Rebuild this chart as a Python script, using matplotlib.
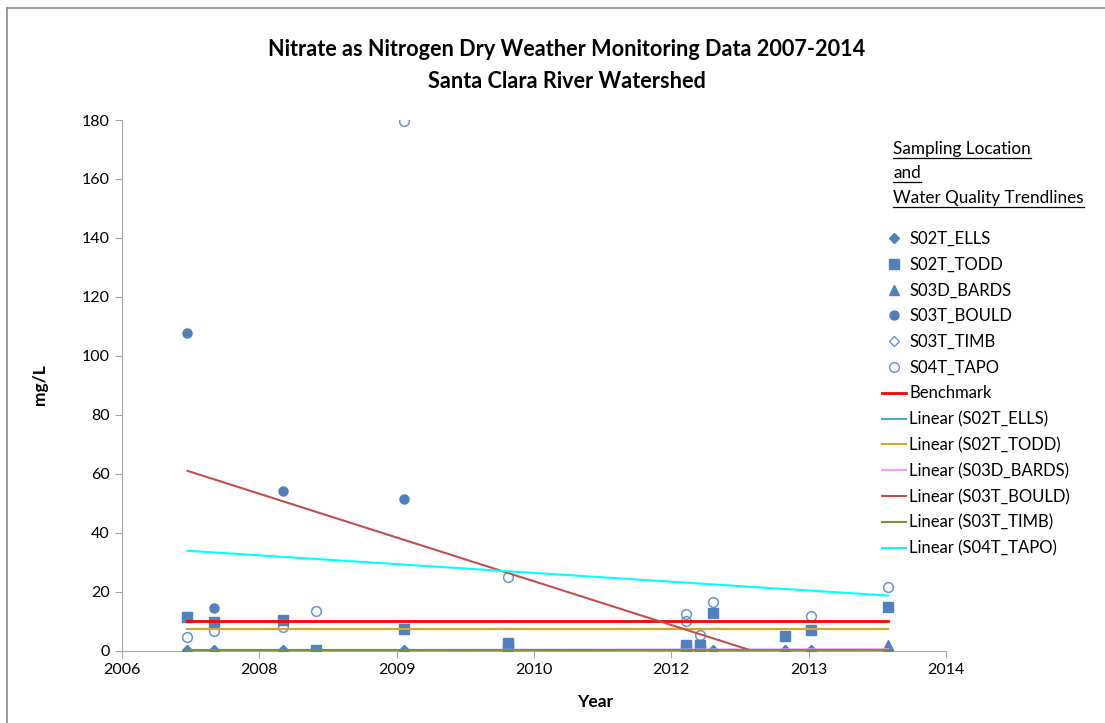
# Nitrate as Nitrogen - dry weather monitoring, Santa Clara River watershed
import matplotlib.pyplot as plt
from matplotlib.lines import Line2D

plt.rcParams['font.family'] = ['Lato', 'DejaVu Sans']

# sample dates (decimal years)
dates = [2007.52, 2007.77, 2008.42, 2008.74, 2009.57, 2010.55,
         2012.24, 2012.37, 2012.49, 2013.18, 2013.42, 2014.15]

ells_y = [0.1, 0.1, 0.1, 0.1, 0.1, 0.1, 0.1, 0.1, 0.1, 0.1, 0.1, 0.1]

todd_x = [2007.52, 2007.77, 2008.42, 2008.74, 2009.57, 2010.55, 2010.55,
          2012.24, 2012.24, 2012.37, 2012.37, 2012.49, 2013.18, 2013.42, 2014.15]
todd_y = [11.3, 9.7, 10.3, 0.3, 7.5, 2.5, 0.5, 2.0, 0.3, 2.0, 0.3, 12.9, 4.9, 7.0, 14.8]

bards_y = [0.1, 0.1, 0.1, 0.1, 0.1, 0.1, 0.1, 0.1, 0.1, 0.1, 0.1, 1.9]

bould_x = [2007.52, 2007.77, 2008.42, 2009.57]
bould_y = [107.6, 14.4, 54.3, 51.6]

timb_y = [0.0, 0.0, 0.0, 0.0, 0.0, 0.0, 0.0, 0.0, 0.0, 0.0, 0.0, 0.0]

tapo_x = [2007.52, 2007.77, 2008.42, 2008.74, 2009.57, 2010.55,
          2012.24, 2012.24, 2012.37, 2012.49, 2013.42, 2014.15]
tapo_y = [4.5, 6.7, 7.9, 13.5, 179.7, 25.1, 12.3, 10.1, 5.3, 16.5, 11.9, 21.7]

# trendlines / benchmark: value at first and last sample date
trend_x = [2007.52, 2014.15]
benchmark = [10, 10]
trend_ells = [0.1, 0.1]
trend_todd = [7.3, 7.3]
trend_bards = [0.1, 0.5]
trend_bould = [61.0, -14.7]
trend_timb = [0.2, 0.2]
trend_tapo = [33.9, 18.7]

xtick_labels = ['2006', '2008', '2009', '2010', '2012', '2013', '2014']

BLUE = '#4F81BD'
LIGHT = '#6A93D0'

fig = plt.figure(figsize=(11.05, 7.23), dpi=100)
ax = fig.add_axes([122 / 1105, 1 - 650.7 / 723, 824 / 1105, 530.7 / 723])

# markers
ax.plot(dates, timb_y, 'D', ms=5.5, mfc='white', mec=LIGHT, mew=1, ls='none', zorder=3)
ax.plot(tapo_x, tapo_y, 'o', ms=7, mfc='none', mec=LIGHT, mew=1.1, ls='none', zorder=3)
ax.plot(dates, ells_y, 'D', ms=5.5, color=BLUE, ls='none', zorder=3)
ax.plot(todd_x, todd_y, 's', ms=6.5, color=BLUE, ls='none', zorder=3)
ax.plot(dates, bards_y, '^', ms=6.5, color=BLUE, ls='none', zorder=3)
ax.plot(bould_x, bould_y, 'o', ms=6.5, color=BLUE, ls='none', zorder=3)

# benchmark + linear trendlines
ax.plot(trend_x, benchmark, color='#FF0000', lw=2, zorder=4)
ax.plot(trend_x, trend_ells, color='#4BACC6', lw=1.5, zorder=4)
ax.plot(trend_x, trend_todd, color='#D4A72C', lw=1.5, zorder=4)
ax.plot(trend_x, trend_bards, color='#FF99FF', lw=1.5, zorder=4)
ax.plot(trend_x, trend_bould, color='#C0504D', lw=1.5, zorder=4)
ax.plot(trend_x, trend_timb, color='#77933C', lw=1.5, zorder=4)
ax.plot(trend_x, trend_tapo, color='#00FFFF', lw=1.5, zorder=4)

ax.set_xlim(2006.9, 2014.7)
ax.set_ylim(0, 180)
ax.set_xticks([2006.9 + 1.3 * k for k in range(7)])
ax.set_xticklabels(xtick_labels)
ax.set_yticks(range(0, 181, 20))
for s in ['top', 'right']:
    ax.spines[s].set_visible(False)
for s in ['left', 'bottom']:
    ax.spines[s].set_color('#A6A6A6')
    ax.spines[s].set_linewidth(0.8)
ax.tick_params(direction='out', length=5, width=0.8, color='#A6A6A6',
               labelsize=11.5, pad=4)

fig.text(40 / 1105, 1 - 385 / 723, 'mg/L', rotation=90, ha='center', va='center',
         fontsize=12.5, fontweight='bold')
fig.text(595 / 1105, 1 - 702 / 723, 'Year', ha='center', va='center',
         fontsize=12.5, fontweight='bold')
fig.text(567 / 1105, 1 - 50 / 723, 'Nitrate as Nitrogen Dry Weather Monitoring Data 2007-2014',
         ha='center', va='center', fontsize=15.6, fontweight='bold')
fig.text(567 / 1105, 1 - 81 / 723, 'Santa Clara River Watershed',
         ha='center', va='center', fontsize=15.6, fontweight='bold')

# chart area border (only top and left edges fall inside the picture)
fig.add_artist(Line2D([6.5 / 1105, 1], [1 - 8 / 723, 1 - 8 / 723],
                      transform=fig.transFigure, color='#8C8C8C', lw=1.2))
fig.add_artist(Line2D([6.5 / 1105, 6.5 / 1105], [0, 1 - 8 / 723],
                      transform=fig.transFigure, color='#8C8C8C', lw=1.2))

# underlined legend header
heads = []
for txt, yy in [('Sampling Location', 149), ('and', 173), ('Water Quality Trendlines', 198)]:
    heads.append(fig.text(893 / 1105, 1 - yy / 723, txt, ha='left', va='center', fontsize=12.3))

handles = [
    Line2D([], [], marker='D', ms=5.5, color=BLUE, ls='none'),
    Line2D([], [], marker='s', ms=6.5, color=BLUE, ls='none'),
    Line2D([], [], marker='^', ms=6.5, color=BLUE, ls='none'),
    Line2D([], [], marker='o', ms=6.5, color=BLUE, ls='none'),
    Line2D([], [], marker='D', ms=5.5, mfc='white', mec=LIGHT, ls='none'),
    Line2D([], [], marker='o', ms=7, mfc='none', mec=LIGHT, ls='none'),
    Line2D([], [], color='#FF0000', lw=2),
    Line2D([], [], color='#4BACC6', lw=1.5),
    Line2D([], [], color='#D4A72C', lw=1.5),
    Line2D([], [], color='#FF99FF', lw=1.5),
    Line2D([], [], color='#C0504D', lw=1.5),
    Line2D([], [], color='#77933C', lw=1.5),
    Line2D([], [], color='#00FFFF', lw=1.5),
]
labels = ['S02T_ELLS', 'S02T_TODD', 'S03D_BARDS', 'S03T_BOULD', 'S03T_TIMB', 'S04T_TAPO',
          'Benchmark', 'Linear (S02T_ELLS)', 'Linear (S02T_TODD)', 'Linear (S03D_BARDS)',
          'Linear (S03T_BOULD)', 'Linear (S03T_TIMB)', 'Linear (S04T_TAPO)']
ax.legend(handles, labels, loc='upper left', bbox_to_anchor=(882 / 1105, 1 - 231 / 723),
          bbox_transform=fig.transFigure, frameon=False, fontsize=12,
          handlelength=1.45, handletextpad=0.18, labelspacing=0.585,
          borderpad=0, borderaxespad=0)

fig.canvas.draw()
r = fig.canvas.get_renderer()
for t in heads:
    bb = t.get_window_extent(r).transformed(fig.transFigure.inverted())
    fig.add_artist(Line2D([bb.x0, bb.x1], [bb.y0 - 0.002, bb.y0 - 0.002],
                          transform=fig.transFigure, color='black', lw=0.9))

fig.savefig('out.png', dpi=100)
